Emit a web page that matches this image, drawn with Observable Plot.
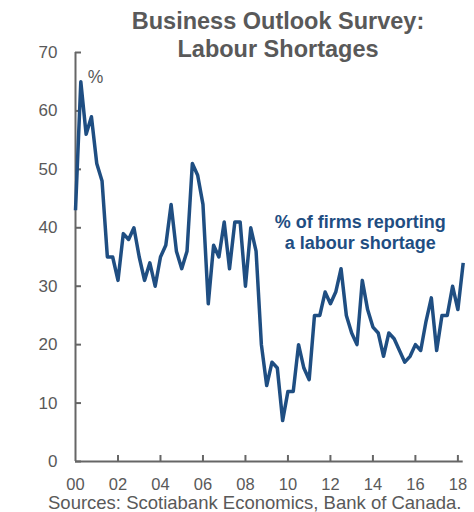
<!DOCTYPE html>
<html>
<head>
<meta charset="utf-8">
<script src="https://cdn.jsdelivr.net/npm/d3@7"></script>
<script src="https://cdn.jsdelivr.net/npm/@observablehq/plot@0.6"></script>
<style>
  html, body { margin: 0; padding: 0; background: #fff; }
  #wrap { position: relative; width: 474px; height: 512px; overflow: hidden; font-family: "Liberation Sans", Arial, sans-serif; }
  #chart { position: absolute; left: 0; top: 0; }
  .title { position: absolute; left: 78px; width: 400px; text-align: center; font-weight: bold; font-size: 23.5px; line-height: 28px; color: #595959; top: 7px; white-space: nowrap; }
  .caption { position: absolute; left: 48px; top: 495px; font-size: 18.5px; line-height: 16px; color: #595959; white-space: nowrap; }
</style>
</head>
<body>
<div id="wrap">
  <div id="chart"></div>
  <div class="title">Business Outlook Survey:<br>Labour Shortages</div>
  <div class="caption">Sources: Scotiabank Economics, Bank of Canada.</div>
</div>
<script>
// Quarterly series, starting 2000 Q1
const startYear = 2000;
const labourShortage = [
  43, 65, 56, 59,   // 2000
  51, 48, 35, 35,   // 2001
  31, 39, 38, 40,   // 2002
  35, 31, 34, 30,   // 2003
  35, 37, 44, 36,   // 2004
  33, 36, 51, 49,   // 2005
  44, 27, 37, 35,   // 2006
  41, 33, 41, 41,   // 2007
  30, 40, 36, 20,   // 2008
  13, 17, 16, 7,    // 2009
  12, 12, 20, 16,   // 2010
  14, 25, 25, 29,   // 2011
  27, 29, 33, 25,   // 2012
  22, 20, 31, 26,   // 2013
  23, 22, 18, 22,   // 2014
  21, 19, 17, 18,   // 2015
  20, 19, 24, 28,   // 2016
  19, 25, 25, 30,   // 2017
  26, 34            // 2018
];
const xTicks = [2000, 2002, 2004, 2006, 2008, 2010, 2012, 2014, 2016, 2018];
const xTickLabels = ["00", "02", "04", "06", "08", "10", "12", "14", "16", "18"];
const yTicks = [0, 10, 20, 30, 40, 50, 60, 70];
const seriesLabel = "% of firms reporting\na labour shortage";
const unitLabel = "%";

const data = labourShortage.map((v, i) => ({t: startYear + i / 4, v}));

const W = 474, H = 512;
const mL = 75, mR = 11.3, mT = 52, mB = 51;
const fw = W - mL - mR, fh = H - mT - mB;
const axisColor = "#666666";
const textColor = "#595959";
const lineColor = "#1f4e82";

const chart = Plot.plot({
  width: W,
  height: H,
  marginLeft: mL,
  marginRight: mR,
  marginTop: mT,
  marginBottom: mB,
  style: {fontFamily: "'Liberation Sans', Arial, sans-serif", background: "transparent"},
  x: {domain: [2000, 2018.25]},
  y: {domain: [0, 70]},
  marks: [
    Plot.ruleX([2000], {stroke: axisColor, strokeWidth: 2}),
    Plot.ruleY([0], {stroke: axisColor, strokeWidth: 2}),
    Plot.tickY(yTicks, {y: d => d, insetRight: fw - 6, stroke: axisColor, strokeWidth: 2}),
    Plot.tickX(xTicks.slice(1), {x: d => d, insetTop: fh - 6, stroke: axisColor, strokeWidth: 2}),
    Plot.axisY(yTicks, {tickSize: 0, tickPadding: 18, fontSize: 17, color: textColor, label: null}),
    Plot.axisX(xTicks, {tickSize: 0, tickPadding: 17, fontSize: 16.5, color: textColor, label: null,
      tickFormat: d => xTickLabels[xTicks.indexOf(d)]}),
    Plot.line(data, {x: "t", y: "v", stroke: lineColor, strokeWidth: 3.5, strokeLinejoin: "round", strokeLinecap: "butt"}),
    Plot.text([unitLabel], {x: 2000.94, y: 65.8, text: d => d, fontSize: 17.5, fill: textColor}),
    Plot.text([seriesLabel], {x: 2013.4, y: 39.28, text: d => d, fontSize: 18, fontWeight: "bold", lineHeight: 1.17, fill: lineColor})
  ]
});
document.getElementById("chart").appendChild(chart);
</script>
</body>
</html>
